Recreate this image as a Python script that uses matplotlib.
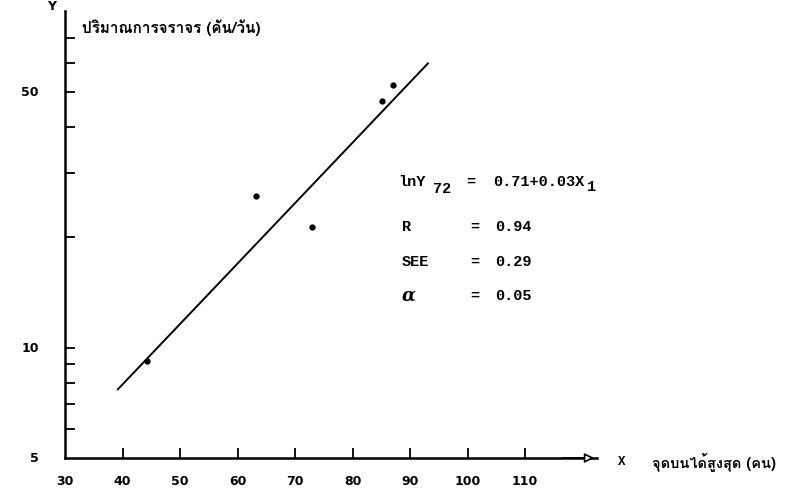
import matplotlib
matplotlib.use("Agg")
import numpy as np
import matplotlib.pyplot as plt
from matplotlib import font_manager
from matplotlib.ft2font import FT2Font

# observed points (x = persons, y = vehicles/day, log scale)
obs_x = [44.3, 63.2, 73.0, 85.1, 87.0]
obs_y = [9.2, 26.0, 21.3, 47.0, 52.0]

# fitted line end points as drawn
fit_x = [39.2, 93.1]
fit_y = [7.7, 59.7]

x_ticks = [40, 50, 60, 70, 80, 90, 100, 110]
x_labels = ["30", "40", "50", "60", "70", "80", "90", "100", "110"]
y_ticks = [6, 7, 8, 9, 10, 20, 30, 40, 50, 60, 70]
y_labels = {5: "5", 10: "10", 50: "50"}

stat_names = ["R", "SEE", "\u03b1"]
stat_vals = ["0.94", "0.29", "0.05"]

y_title = "ปริมาณการจราจร (คัน/วัน)"
x_title = "จุดบนได้สูงสุด (คน)"


def find_thai_font():
    """ look for any installed font that has thai glyphs """
    for f in font_manager.fontManager.ttflist:
        try:
            cmap = FT2Font(f.fname).get_charmap()
        except Exception:
            continue
        if ord("ป") in cmap and ord("ณ") in cmap:
            return f.name
    return "DejaVu Sans"


thai_font = find_thai_font()
mono = "Liberation Mono"

W, H = 790, 489
fig = plt.figure(figsize=(7.9, 4.89), dpi=100)


def fx(px):
    return px / W


def fy(py):
    return 1 - py / H


ax = fig.add_axes([fx(65), fy(459), fx(597) - fx(65), fy(12) - fy(459)])
ax.set_yscale("log")
ax.set_xlim(30, 122.5)
ax.set_ylim(5, 83)

ax.plot(fit_x, fit_y, color="black", lw=1.4)
ax.plot(obs_x, obs_y, "o", color="black", ms=3.5)

for s in ["top", "right"]:
    ax.spines[s].set_visible(False)
ax.spines["left"].set_linewidth(1.8)
ax.spines["bottom"].set_linewidth(1.8)

ax.set_xticks(x_ticks)
ax.set_xticklabels([])
ax.set_yticks(y_ticks)
ax.set_yticklabels([])
ax.yaxis.set_minor_locator(matplotlib.ticker.NullLocator())
ax.tick_params(axis="both", direction="in", length=7, width=1.3, color="black")

# tick labels drawn by hand so they sit where the scan has them
for i, lab in enumerate(x_labels):
    xv = 30 + 10 * i
    ax.annotate(lab, (xv, 5), xytext=(0, -16), textcoords="offset points",
                ha="center", va="center", fontsize=9, fontweight="bold",
                annotation_clip=False)
for yv, lab in y_labels.items():
    ax.annotate(lab, (30, yv), xytext=(-19, 0), textcoords="offset points",
                ha="right", va="center", fontsize=9, fontweight="bold",
                annotation_clip=False)

# open arrow head at the end of x axis, Y at top of y axis
ax.annotate("", xy=(122.5, 5), xytext=(116, 5), xycoords="data",
            arrowprops=dict(arrowstyle="-|>", color="black", lw=1.2,
                            fc="white", mutation_scale=14),
            annotation_clip=False)
fig.text(fx(52), fy(6), "Y", fontsize=9, fontweight="bold", ha="center", va="center")
fig.text(fx(622), fy(462), "X", fontsize=9, fontweight="bold", family=mono, ha="center", va="center")

fig.text(fx(82), fy(28), y_title, fontsize=11, fontweight="bold",
         family=[thai_font, "DejaVu Sans"], va="center")
fig.text(fx(652), fy(462), x_title, fontsize=10.5, fontweight="bold",
         family=[thai_font, "DejaVu Sans"], va="center")

# regression summary
fs = 11
fig.text(fx(398), fy(182), "lnY", fontsize=fs, family=mono, fontweight="bold", va="center")
fig.text(fx(433), fy(189), "72", fontsize=fs, family=mono, fontweight="bold", va="center")
fig.text(fx(466), fy(182), "=", fontsize=fs, family=mono, fontweight="bold", va="center")
fig.text(fx(493), fy(182), "0.71+0.03X", fontsize=fs, family=mono, fontweight="bold", va="center")
fig.text(fx(587), fy(187), "1", fontsize=fs, family=mono, fontweight="bold", va="center")

rows_y = [227, 262, 296]
for name, val, ry in zip(stat_names, stat_vals, rows_y):
    fam = mono if name != "\u03b1" else "DejaVu Serif"
    fig.text(fx(402), fy(ry), name, fontsize=fs + (2 if name == "\u03b1" else 0),
             family=fam, fontweight="bold", va="center",
             style="italic" if name == "\u03b1" else "normal")
    fig.text(fx(470), fy(ry), "=", fontsize=fs, family=mono, fontweight="bold", va="center")
    fig.text(fx(495), fy(ry), val, fontsize=fs, family=mono, fontweight="bold", va="center")

fig.savefig("out.png", dpi=100)
